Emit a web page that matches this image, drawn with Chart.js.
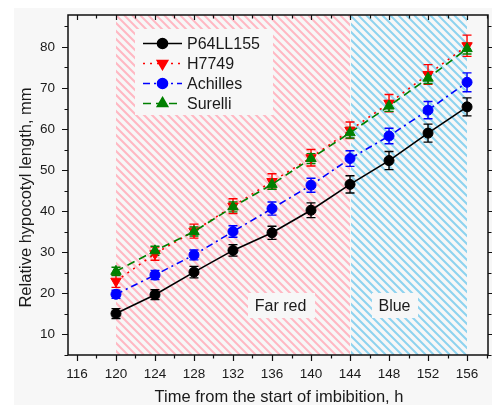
<!DOCTYPE html>
<html><head><meta charset="utf-8">
<script src="https://cdn.jsdelivr.net/npm/chart.js@4.4.0/dist/chart.umd.min.js"></script>
<style>html,body{margin:0;padding:0;background:#fff}#wrap{width:492px;height:405px}</style>
</head><body><div id="wrap"><canvas id="c" width="492" height="405"></canvas></div>
<script>
// ---- data ----
const hours = [120,124,128,132,136,140,144,148,152,156];
const xTickLabels = [116,120,124,128,132,136,140,144,148,152,156];
const yTickLabels = [10,20,30,40,50,60,70,80];
const seriesNames = ['P64LL155','H7749','Achilles','Surelli'];
const p64 = [15.0,19.6,25.1,30.4,34.7,40.2,46.5,52.3,59.0,65.4];
const p64Err = [1.2,1.2,1.4,1.4,1.6,1.8,2.1,2.2,2.2,2.2];
const h7749 = [22.9,29.6,35.1,41.2,47.2,53.0,59.7,66.3,73.3,80.3];
const h7749Err = [1.5,1.6,1.7,1.8,1.9,2.0,2.0,2.1,2.4,2.6];
const achilles = [19.7,24.4,29.3,35.0,40.6,46.3,52.8,58.3,64.6,71.4];
const achillesErr = [1.0,1.1,1.2,1.4,1.6,1.7,1.9,1.9,2.1,2.3];
const surelli = [25.3,30.3,35.0,41.0,46.5,52.8,59.1,65.6,72.4,79.6];
const surelliErr = [1.0,1.1,1.1,1.2,1.2,1.2,1.3,1.3,1.3,1.3];
const regionBounds = [120,144,156];
const regionLabels = ['Far red','Blue'];

// ---- styles ----
const FONT = "'Liberation Sans', Arial, Helvetica, sans-serif";
const TEXT = '#1a1a1a';
const PANEL = '#f7f7f7';
const hatchColors = ['#ffb8c3','#8ed3ef'];
const styles = [
  {color:'#000000', dash:[], pointStyle:'circle', rotation:0, radius:5, order:3},
  {color:'#ff0000', dash:[2,5], pointStyle:'triangle', rotation:180, radius:6, order:1},
  {color:'#0000ff', dash:[7,4,2,4], pointStyle:'circle', rotation:0, radius:5, order:2},
  {color:'#008000', dash:[8,5], pointStyle:'triangle', rotation:0, radius:6, order:0}
];
const values = [p64,h7749,achilles,surelli];
const errors = [p64Err,h7749Err,achillesErr,surelliErr];

const datasets = values.map((vals,i)=>({
  label: seriesNames[i],
  data: hours.map((h,j)=>({x:h,y:vals[j]})),
  borderColor: styles[i].color,
  backgroundColor: styles[i].color,
  borderWidth: 1.6,
  borderDash: styles[i].dash,
  pointStyle: styles[i].pointStyle,
  rotation: styles[i].rotation,
  pointRadius: styles[i].radius,
  pointBorderWidth: 1,
  pointBackgroundColor: styles[i].color,
  pointBorderColor: styles[i].color,
  tension: 0,
  order: styles[i].order,
  errors: errors[i]
}));

const bgPlugin = {
  id:'bg',
  beforeDraw(chart){
    const ctx = chart.ctx;
    ctx.save();
    ctx.fillStyle = '#ffffff';
    ctx.fillRect(0,0,chart.width,chart.height);
    ctx.fillStyle = PANEL;
    ctx.fillRect(14,8,chart.width-14,chart.height-8);
    ctx.restore();
  }
};

const underlayPlugin = {
  id:'underlay',
  beforeDatasetsDraw(chart){
    const ctx = chart.ctx, ca = chart.chartArea;
    const xs = chart.scales.x, ys = chart.scales.y;
    ctx.save();
    // hatched light regions
    for (let r=0;r<regionLabels.length;r++){
      const x0 = xs.getPixelForValue(regionBounds[r]);
      const x1 = xs.getPixelForValue(regionBounds[r+1]);
      ctx.save();
      ctx.beginPath();
      ctx.rect(x0+ (r>0?1:0), ca.top, x1-x0-(r>0?1:0), ca.bottom-ca.top);
      ctx.clip();
      ctx.strokeStyle = hatchColors[r];
      ctx.lineWidth = 2;
      const H = ca.bottom - ca.top;
      ctx.beginPath();
      for (let x = x0 - H - 20; x < x1 + 20; x += 8){
        ctx.moveTo(x, ca.top);
        ctx.lineTo(x + H, ca.bottom);
      }
      ctx.stroke();
      ctx.restore();
    }
    // region labels
    ctx.fillStyle = PANEL;
    ctx.fillRect(248,293,67,25);
    ctx.fillRect(372,293,46,25);
    ctx.fillStyle = TEXT;
    ctx.font = '16px ' + FONT;
    ctx.textAlign = 'center';
    ctx.textBaseline = 'alphabetic';
    for (let r=0;r<regionLabels.length;r++){
      const cx = r===0 ? 280.5 : 394.5;
      ctx.fillText(regionLabels[r], cx, 311);
    }
    // legend
    ctx.fillStyle = PANEL;
    ctx.fillRect(135,29,138,86);
    const rowY = [43.5,63.5,83.5,103.5];
    for (let i=0;i<datasets.length;i++){
      const st = styles[i];
      ctx.save();
      ctx.strokeStyle = st.color;
      ctx.lineWidth = 1.6;
      ctx.setLineDash(st.dash);
      ctx.beginPath();
      ctx.moveTo(143,rowY[i]);
      ctx.lineTo(182,rowY[i]);
      ctx.stroke();
      ctx.setLineDash([]);
      ctx.fillStyle = st.color;
      Chart.helpers.drawPoint(ctx,{pointStyle:st.pointStyle,rotation:st.rotation,radius:st.radius,borderWidth:1},162.5,rowY[i]);
      ctx.restore();
      ctx.fillStyle = TEXT;
      ctx.font = '16px ' + FONT;
      ctx.textAlign = 'left';
      ctx.textBaseline = 'alphabetic';
      ctx.fillText(datasets[i].label, 187, rowY[i]+5.5);
    }
    // error bars
    ctx.setLineDash([]);
    ctx.lineWidth = 1.4;
    datasets.forEach((ds,i)=>{
      ctx.strokeStyle = styles[i].color;
      ds.data.forEach((p,j)=>{
        const px = xs.getPixelForValue(p.x);
        const yt = ys.getPixelForValue(p.y + ds.errors[j]);
        const yb = ys.getPixelForValue(p.y - ds.errors[j]);
        ctx.beginPath();
        ctx.moveTo(px,yt); ctx.lineTo(px,yb);
        ctx.moveTo(px-4.5,yt); ctx.lineTo(px+4.5,yt);
        ctx.moveTo(px-4.5,yb); ctx.lineTo(px+4.5,yb);
        ctx.stroke();
      });
    });
    ctx.restore();
  },
  afterDatasetsDraw(chart){
    const ctx = chart.ctx, ca = chart.chartArea;
    const xs = chart.scales.x, ys = chart.scales.y;
    ctx.save();
    ctx.strokeStyle = '#111';
    ctx.lineWidth = 1.5;
    ctx.beginPath();
    ctx.rect(ca.left, ca.top, ca.right-ca.left, ca.bottom-ca.top);
    ctx.stroke();
    ctx.lineWidth = 1.2;
    ctx.beginPath();
    for (let v=116; v<=158; v+=2){
      const px = Math.round(xs.getPixelForValue(v))+0.5;
      const major = v%4===0;
      ctx.moveTo(px, ca.bottom); ctx.lineTo(px, ca.bottom + (major?6:3.5));
      ctx.moveTo(px, ca.top); ctx.lineTo(px, ca.top + (major?5:3.5));
    }
    for (let v=5; v<=85; v+=5){
      const py = Math.round(ys.getPixelForValue(v))+0.5;
      const major = v%10===0;
      ctx.moveTo(ca.left, py); ctx.lineTo(ca.left - (major?6:3.5), py);
      ctx.moveTo(ca.right, py); ctx.lineTo(ca.right + (major?5:3.5), py);
    }
    ctx.stroke();
    // axis titles
    ctx.fillStyle = TEXT;
    ctx.font = '16.5px ' + FONT;
    ctx.textAlign = 'center';
    ctx.textBaseline = 'alphabetic';
    ctx.fillText('Time from the start of imbibition, h', 279, 402);
    ctx.translate(30.5, 197.5);
    ctx.rotate(-Math.PI/2);
    ctx.fillText('Relative hypocotyl length, mm', 0, 0);
    ctx.restore();
  }
};

const zeroPad = s => { s.paddingTop = 0; s.paddingBottom = 0; s.paddingLeft = 0; s.paddingRight = 0; };

new Chart(document.getElementById('c'), {
  type:'line',
  data:{datasets},
  plugins:[bgPlugin, underlayPlugin],
  options:{
    responsive:false,
    animation:false,
    devicePixelRatio:1,
    layout:{autoPadding:false, padding:{top:15,right:4,left:0,bottom:0}},
    plugins:{legend:{display:false},tooltip:{enabled:false}},
    scales:{
      x:{
        type:'linear', min:115.08, max:158.15,
        afterBuildTicks:s=>{s.ticks = xTickLabels.map(v=>({value:v}));},
        afterFit:s=>{s.height = 50; zeroPad(s);},
        grid:{display:false, drawTicks:false},
        border:{display:false},
        ticks:{padding:11, autoSkip:false, maxRotation:0, color:TEXT, font:{family:FONT,size:13.5}}
      },
      y:{
        type:'linear', min:4.9, max:87.8,
        afterBuildTicks:s=>{s.ticks = yTickLabels.map(v=>({value:v}));},
        afterFit:s=>{s.width = 68; zeroPad(s);},
        grid:{display:false, drawTicks:false},
        border:{display:false},
        ticks:{padding:13, color:TEXT, font:{family:FONT,size:13.5}}
      }
    }
  }
});
</script></body></html>
